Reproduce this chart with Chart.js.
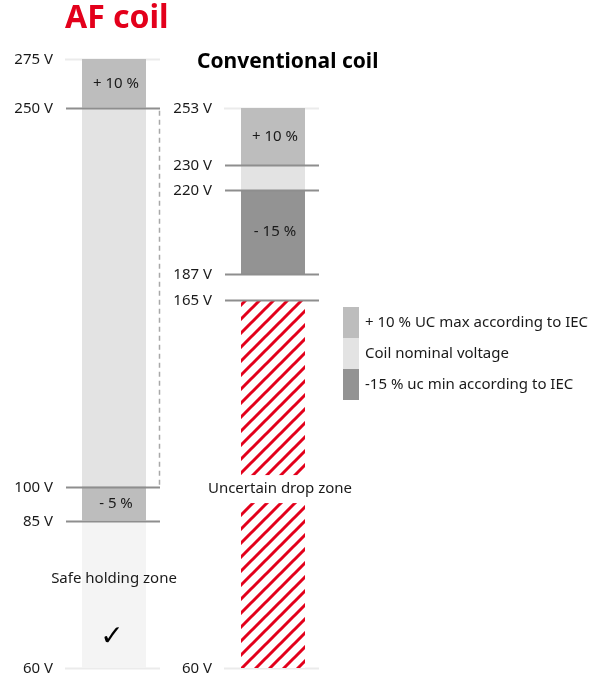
<!DOCTYPE html>
<html>
<head>
<meta charset="utf-8">
<script src="https://cdn.jsdelivr.net/npm/chart.js@4"></script>
<style>
  html, body { margin: 0; padding: 0; background: #fff; }
  #chart { display: block; }
</style>
</head>
<body>
<canvas id="chart" width="592" height="676"></canvas>
<script>
// Dados do gráfico
const columns = ['AF coil', 'Conventional coil'];

const afTicks = [275, 250, 100, 85, 60];
const convTicks = [253, 230, 220, 187, 165, 60];

const afBands = [[60, 85], [85, 100], [100, 250], [250, 275]];
const afBandText = ['', '- 5 %', '', '+ 10 %'];

const convBands = [[60, 165], [187, 220], [220, 230], [230, 253]];
const convBandText = ['', '- 15 %', '', '+ 10 %'];

const legendLabels = ['+ 10 % UC max according to IEC', 'Coil nominal voltage', '-15 % uc min according to IEC'];
const zoneLabels = ['Safe holding zone', 'Uncertain drop zone'];

// O eixo do desenho não é linear: posição relativa (0 = base, 1 = topo) de cada marca
const afTickPos = [1, 0.920, 0.298, 0.242, 0];
const convTickPos = [0.9195, 0.826, 0.785, 0.647, 0.604, 0];

const RED = '#e3001b';
const TEXT = '#1a1a1a';
const FONT = '"Noto Sans", "Open Sans", sans-serif';
const BODY = '15px ' + FONT;

// Escala linear por trechos, para reproduzir o esquema
class PiecewiseScale extends Chart.LinearScale {
    getPixelForValue(value) {
        const vals = this.options.stopValues;
        const pos = this.options.stopPositions;
        const pts = vals.map((v, i) => [v, pos[i]]).sort((a, b) => a[0] - b[0]);
        let frac;
        if (value <= pts[0][0]) {
            frac = pts[0][1];
        } else if (value >= pts[pts.length - 1][0]) {
            frac = pts[pts.length - 1][1];
        } else {
            for (let i = 0; i < pts.length - 1; i++) {
                const a = pts[i], b = pts[i + 1];
                if (value >= a[0] && value <= b[0]) {
                    frac = a[1] + (value - a[0]) / (b[0] - a[0]) * (b[1] - a[1]);
                    break;
                }
            }
        }
        return this.getPixelForDecimal(frac);
    }
    getValueForPixel(pixel) {
        const vals = this.options.stopValues;
        const pos = this.options.stopPositions;
        const pts = vals.map((v, i) => [v, pos[i]]).sort((a, b) => a[1] - b[1]);
        const d = this.getDecimalForPixel(pixel);
        for (let i = 0; i < pts.length - 1; i++) {
            const a = pts[i], b = pts[i + 1];
            if (d >= a[1] && d <= b[1]) {
                return a[0] + (d - a[1]) / (b[1] - a[1]) * (b[0] - a[0]);
            }
        }
        return d <= pts[0][1] ? pts[0][0] : pts[pts.length - 1][0];
    }
}
PiecewiseScale.id = 'piecewise';
PiecewiseScale.defaults = Chart.LinearScale.defaults;
Chart.register(PiecewiseScale);

const ctx = document.getElementById('chart').getContext('2d');

// Padrão hachurado vermelho
function makeHatch() {
    const s = 14;
    const c = document.createElement('canvas');
    c.width = s; c.height = s;
    const g = c.getContext('2d');
    g.fillStyle = '#fff';
    g.fillRect(0, 0, s, s);
    g.strokeStyle = RED;
    g.lineWidth = 3;
    g.beginPath();
    g.moveTo(-2, s + 2); g.lineTo(s + 2, -2);
    g.moveTo(-2, 2); g.lineTo(2, -2);
    g.moveTo(s - 2, s + 2); g.lineTo(s + 2, s - 2);
    g.stroke();
    return ctx.createPattern(c, 'repeat');
}

const afColors = ['#f4f4f4', '#bdbdbd', '#e3e3e3', '#bdbdbd'];
const convColors = [makeHatch(), '#939393', '#e3e3e3', '#bdbdbd'];
const legendColors = ['#bdbdbd', '#e3e3e3', '#939393'];

const datasets = [];
afBands.forEach((band, i) => {
    datasets.push({
        label: 'af' + i,
        data: [band, null],
        backgroundColor: afColors[i],
        yAxisID: 'yAF',
        bandText: afBandText[i]
    });
});
convBands.forEach((band, i) => {
    datasets.push({
        label: 'conv' + i,
        data: [null, band],
        backgroundColor: convColors[i],
        yAxisID: 'yConv',
        bandText: convBandText[i]
    });
});

function barGeom(chart, dsIndex, col) {
    const el = chart.getDatasetMeta(dsIndex).data[col];
    return { x: el.x, w: el.width, top: Math.min(el.y, el.base), bottom: Math.max(el.y, el.base) };
}

function drawLine(g, x1, x2, y, color, width) {
    g.save();
    g.strokeStyle = color;
    g.lineWidth = width;
    g.beginPath();
    g.moveTo(x1, y);
    g.lineTo(x2, y);
    g.stroke();
    g.restore();
}

const columnAxes = [
    { scaleId: 'yAF', ticks: afTicks, dsIndex: 0, col: 0 },
    { scaleId: 'yConv', ticks: convTicks, dsIndex: afBands.length, col: 1 }
];

const schemePlugin = {
    id: 'scheme',
    beforeDatasetsDraw(chart) {
        const g = chart.ctx;
        // linhas claras do topo e da base
        columnAxes.forEach(ax => {
            const b = barGeom(chart, ax.dsIndex, ax.col);
            const left = b.x - b.w / 2 - 17;
            const right = b.x + b.w / 2 + 14;
            const scale = chart.scales[ax.scaleId];
            [ax.ticks[0], ax.ticks[ax.ticks.length - 1]].forEach(v => {
                drawLine(g, left, right, Math.round(scale.getPixelForValue(v)) + 0.5, '#ebebeb', 2);
            });
        });
    },
    afterDatasetsDraw(chart) {
        const g = chart.ctx;

        columnAxes.forEach(ax => {
            const b = barGeom(chart, ax.dsIndex, ax.col);
            const left = b.x - b.w / 2 - 16;
            const right = b.x + b.w / 2 + 14;
            const scale = chart.scales[ax.scaleId];
            ax.ticks.forEach((v, i) => {
                const y = Math.round(scale.getPixelForValue(v)) + 0.5;
                if (i > 0 && i < ax.ticks.length - 1) {
                    drawLine(g, left, right, y, '#8e8e8e', 2);
                }
                g.save();
                g.fillStyle = TEXT;
                g.font = BODY;
                g.textAlign = 'right';
                g.textBaseline = 'middle';
                g.fillText(v + ' V', left - 13, y);
                g.restore();
            });
        });

        // linha tracejada entre 250 V e 100 V
        const af = barGeom(chart, 0, 0);
        const yAF = chart.scales.yAF;
        const dx = Math.round(af.x + af.w / 2 + 14) - 0.5;
        g.save();
        g.strokeStyle = '#a8a8a8';
        g.lineWidth = 1.5;
        g.setLineDash([5, 4]);
        g.beginPath();
        g.moveTo(dx, yAF.getPixelForValue(afTicks[1]) + 3);
        g.lineTo(dx, yAF.getPixelForValue(afTicks[2]) - 1);
        g.stroke();
        g.restore();

        // textos dentro das barras
        chart.data.datasets.forEach((ds, i) => {
            if (!ds.bandText) return;
            const col = ds.data[0] ? 0 : 1;
            const b = barGeom(chart, i, col);
            g.save();
            g.fillStyle = TEXT;
            g.font = BODY;
            g.textAlign = 'center';
            g.textBaseline = 'middle';
            g.fillText(ds.bandText, b.x + 2, (b.top + b.bottom) / 2);
            g.restore();
        });

        // zona segura
        const safe = barGeom(chart, 0, 0);
        const safeMid = (safe.top + safe.bottom) / 2;
        g.save();
        g.fillStyle = TEXT;
        g.font = BODY;
        g.textAlign = 'center';
        g.textBaseline = 'middle';
        g.fillText(zoneLabels[0], safe.x, safeMid - 16);
        g.font = '28px "DejaVu Sans", sans-serif';
        g.fillStyle = '#000';
        g.fillText('\u2713', safe.x - 2, safeMid + 43);
        g.restore();

        // zona incerta
        const drop = barGeom(chart, afBands.length, 1);
        const dropMid = (drop.top + drop.bottom) / 2 + 5;
        g.save();
        g.fillStyle = '#fff';
        g.fillRect(drop.x - drop.w / 2, dropMid - 14, drop.w, 28);
        g.fillStyle = TEXT;
        g.font = BODY;
        g.textAlign = 'center';
        g.textBaseline = 'middle';
        g.fillText(zoneLabels[1], drop.x + 7, dropMid);
        g.restore();

        // títulos
        g.save();
        g.textAlign = 'left';
        g.textBaseline = 'alphabetic';
        g.fillStyle = RED;
        g.font = 'bold 32px ' + FONT;
        g.fillText(columns[0], 65, 28);
        g.fillStyle = '#000';
        g.font = 'bold 21px ' + FONT;
        g.fillText(columns[1], 197, 68);
        g.restore();

        // legenda
        g.save();
        legendLabels.forEach((label, i) => {
            const y = 307 + i * 31;
            g.fillStyle = legendColors[i];
            g.fillRect(343, y, 16, 31);
            g.fillStyle = TEXT;
            g.font = BODY;
            g.textAlign = 'left';
            g.textBaseline = 'middle';
            g.fillText(label, 365, y + 16);
        });
        g.restore();
    }
};

new Chart(ctx, {
    type: 'bar',
    data: {
        labels: columns,
        datasets: datasets
    },
    options: {
        responsive: false,
        devicePixelRatio: 1,
        animation: false,
        layout: {
            padding: { left: 34.5, right: 239.5, top: 59, bottom: 8 }
        },
        datasets: {
            bar: {
                grouped: false,
                borderWidth: 0,
                barPercentage: 0.4025,
                categoryPercentage: 1
            }
        },
        scales: {
            x: { display: false, grid: { display: false } },
            yAF: {
                type: 'piecewise',
                display: false,
                min: 60,
                max: 275,
                stopValues: afTicks,
                stopPositions: afTickPos
            },
            yConv: {
                type: 'piecewise',
                display: false,
                min: 60,
                max: 275,
                stopValues: convTicks,
                stopPositions: convTickPos
            }
        },
        plugins: {
            legend: { display: false },
            tooltip: { enabled: false },
            title: { display: false }
        }
    },
    plugins: [schemePlugin]
});
</script>
</body>
</html>
